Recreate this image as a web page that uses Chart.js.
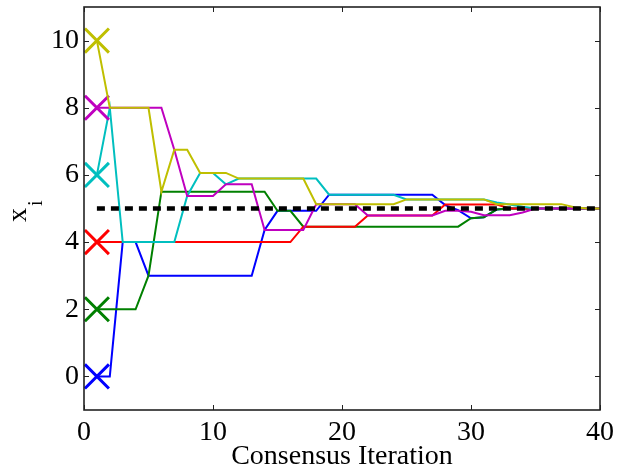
<!DOCTYPE html>
<html><head><meta charset="utf-8">
<script src="https://cdn.jsdelivr.net/npm/chart.js@4/dist/chart.umd.min.js"></script>
<style>html,body{margin:0;padding:0;background:#fff;}#wrap{width:620px;height:475px;}</style>
</head><body><div id="wrap"><canvas id="c" width="620" height="475"></canvas></div>
<script>
// ---- data ----
const iterations = Array.from({length: 40}, (_, i) => i + 1);
const xTicks = [0, 10, 20, 30, 40];
const yTicks = [0, 2, 4, 6, 8, 10];
const consensusValue = 5;
const nodeBlue = [0,0,4,4,3,3,3,3,3,3, 3,3,3,4.36,4.93,4.93,4.93,4.93,5.41,5.41, 5.41,5.41,5.41,5.41,5.41,5.41,5.41,5.10,4.95,4.71, 4.74,4.97,5,5,5,5,5,5,5,5];
const nodeGreen = [2,2,2,2,3,5.5,5.5,5.5,5.5,5.5, 5.5,5.5,5.5,5.5,4.93,4.93,4.46,4.46,4.46,4.46, 4.46,4.46,4.46,4.46,4.46,4.46,4.46,4.46,4.46,4.71, 4.74,4.97,5,5,5,5,5,5,5,5];
const nodeRed = [4,4,4,4,4,4,4,4,4,4, 4,4,4,4,4,4,4.46,4.46,4.46,4.46, 4.46,4.79,4.79,4.79,4.79,4.79,4.79,5.12,5.12,5.12, 5.12,5.12,5,5,5,5,5,5,5,5];
const nodeCyan = [6,8,4,4,4,4,4,5.375,6.06,6.06, 5.72,5.89,5.89,5.89,5.89,5.89,5.89,5.89,5.41,5.41, 5.41,5.41,5.41,5.41,5.27,5.27,5.27,5.27,5.27,5.27, 5.27,5.18,5.12,5.05,5,5,5,5,5,5];
const nodeMagenta = [8,8,8,8,8,8,6.75,5.375,5.375,5.375, 5.72,5.72,5.72,4.36,4.36,4.36,4.36,5.125,5.125,5.125, 5.125,4.79,4.79,4.79,4.79,4.79,4.79,4.93,4.93,4.9, 4.8,4.8,4.8,4.88,5,5,5,5,5,5];
const nodeYellow = [10,8,8,8,8,5.5,6.75,6.75,6.06,6.06, 6.06,5.89,5.89,5.89,5.89,5.89,5.89,5.125,5.125,5.125, 5.125,5.125,5.125,5.125,5.27,5.27,5.27,5.27,5.27,5.27, 5.27,5.13,5.13,5.13,5.13,5.13,5.13,5.04,5,5];

const serif = "'Liberation Serif','Times New Roman',serif";
const toXY = arr => arr.map((v, i) => ({x: iterations[i], y: v}));

function nodeSet(arr, color, order) {
  return {
    data: toXY(arr), borderColor: color, backgroundColor: color,
    borderWidth: 2, pointStyle: 'crossRot',
    pointRadius: c => c.dataIndex === 0 ? 17 : 0,
    pointBorderWidth: 3, pointHoverRadius: 0,
    tension: 0, order: order, clip: false
  };
}

const frame = {
  id: 'frame',
  afterDatasetsDraw(chart) {
    const {ctx, chartArea: a, scales: {x, y}} = chart;
    ctx.save();
    ctx.strokeStyle = '#222';
    ctx.lineWidth = 1;
    ctx.beginPath();
    xTicks.forEach(v => {
      const p = Math.round(x.getPixelForValue(v)) + 0.5;
      ctx.moveTo(p, a.bottom); ctx.lineTo(p, a.bottom - 5);
      ctx.moveTo(p, a.top); ctx.lineTo(p, a.top + 5);
    });
    yTicks.forEach(v => {
      const p = Math.round(y.getPixelForValue(v)) + 0.5;
      ctx.moveTo(a.left, p); ctx.lineTo(a.left + 5, p);
      ctx.moveTo(a.right, p); ctx.lineTo(a.right - 5, p);
    });
    ctx.stroke();
    ctx.lineWidth = 1.6;
    ctx.strokeRect(a.left, a.top, a.right - a.left, a.bottom - a.top);
    ctx.restore();
  },
  afterDraw(chart) {
    const ctx = chart.ctx;
    ctx.save();
    ctx.fillStyle = '#000';
    ctx.translate(26, 222);
    ctx.rotate(-Math.PI / 2);
    ctx.textAlign = 'left';
    ctx.textBaseline = 'alphabetic';
    ctx.font = "28px " + serif;
    ctx.fillText('x', 0, 0);
    ctx.font = "20px " + serif;
    ctx.fillText('i', 16, 16);
    ctx.restore();
  }
};

new Chart(document.getElementById('c'), {
  type: 'line',
  data: {
    datasets: [
      {data: [{x: 1, y: consensusValue}, {x: 40, y: consensusValue}], borderColor: '#000',
       borderWidth: 4.5, borderDash: [8, 6], borderCapStyle: 'butt', pointRadius: 0, order: 0},
      nodeSet(nodeYellow, '#BFBF00', 1),
      nodeSet(nodeMagenta, '#BF00BF', 2),
      nodeSet(nodeCyan, '#00BFBF', 3),
      nodeSet(nodeRed, '#FF0000', 4),
      nodeSet(nodeGreen, '#008000', 5),
      nodeSet(nodeBlue, '#0000FF', 6)
    ]
  },
  options: {
    responsive: false, animation: false, devicePixelRatio: 1,
    layout: {autoPadding: false, padding: {top: 7, right: 18, left: 0, bottom: 0}},
    plugins: {legend: {display: false}, tooltip: {enabled: false}},
    scales: {
      x: {
        type: 'linear', min: 0, max: 40,
        afterBuildTicks: s => { s.ticks = xTicks.map(v => ({value: v})); },
        afterFit: s => { s.height = 65; },
        ticks: {font: {family: serif, size: 28}, color: '#000', padding: 6, maxRotation: 0},
        grid: {display: false, drawTicks: false},
        border: {display: false},
        title: {display: true, text: 'Consensus Iteration', color: '#000',
                font: {family: serif, size: 28}, padding: {top: 0, bottom: 2}}
      },
      y: {
        type: 'linear', min: -1, max: 11,
        afterBuildTicks: s => { s.ticks = yTicks.map(v => ({value: v})); },
        afterFit: s => { s.width = 84; s.paddingTop = 0; s.paddingBottom = 0; },
        ticks: {font: {family: serif, size: 28, lineHeight: 0.4}, color: '#000', padding: 5},
        grid: {display: false, drawTicks: false},
        border: {display: false}
      }
    }
  },
  plugins: [frame]
});
</script></body></html>
